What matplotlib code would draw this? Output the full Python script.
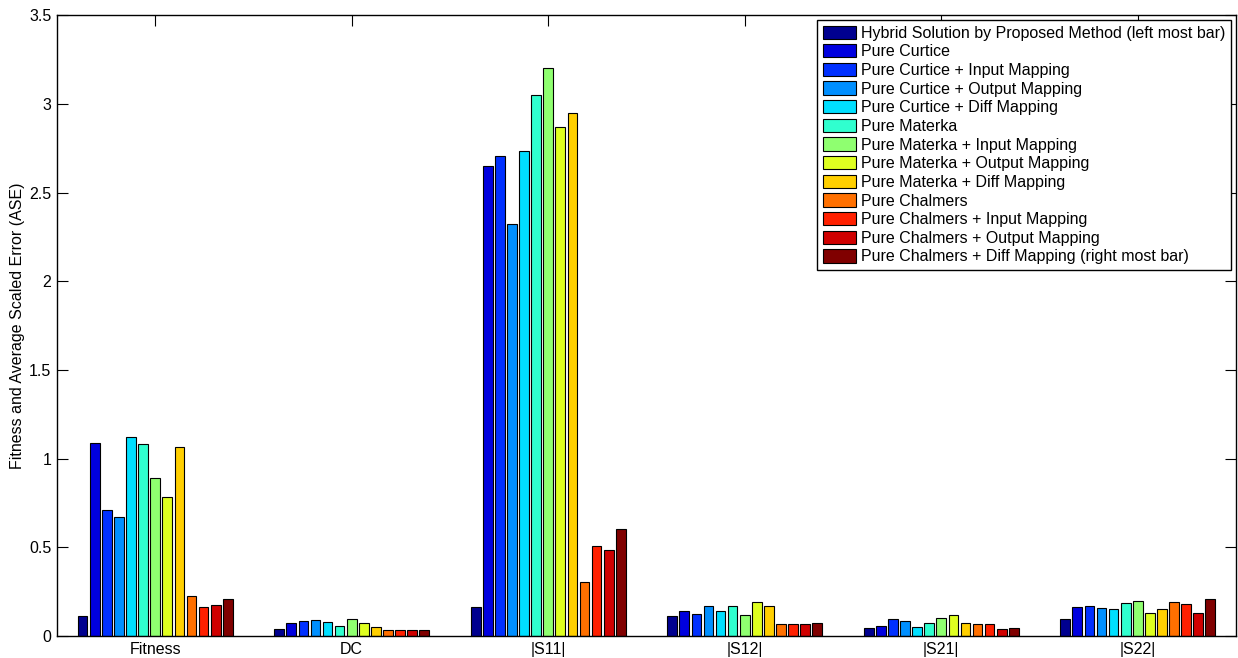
import numpy as np
import matplotlib
matplotlib.use("Agg")
import matplotlib.pyplot as plt

plt.rcParams['font.family'] = ['Liberation Sans', 'DejaVu Sans']

groups = ['Fitness', 'DC', '|S11|', '|S12|', '|S21|', '|S22|']

series = ['Hybrid Solution by Proposed Method (left most bar)',
          'Pure Curtice',
          'Pure Curtice + Input Mapping',
          'Pure Curtice + Output Mapping',
          'Pure Curtice + Diff Mapping',
          'Pure Materka',
          'Pure Materka + Input Mapping',
          'Pure Materka + Output Mapping',
          'Pure Materka + Diff Mapping',
          'Pure Chalmers',
          'Pure Chalmers + Input Mapping',
          'Pure Chalmers + Output Mapping',
          'Pure Chalmers + Diff Mapping (right most bar)']

# one row per group, one column per series
fitness = [0.113, 1.09, 0.71, 0.672, 1.123, 1.082, 0.892, 0.785, 1.067, 0.224, 0.163, 0.175, 0.209]
dc      = [0.039, 0.072, 0.085, 0.092, 0.077, 0.058, 0.098, 0.073, 0.053, 0.032, 0.032, 0.036, 0.032]
s11     = [0.163, 2.649, 2.707, 2.32, 2.732, 3.051, 3.202, 2.867, 2.946, 0.303, 0.509, 0.485, 0.605]
s12     = [0.113, 0.143, 0.124, 0.169, 0.139, 0.169, 0.118, 0.19, 0.169, 0.069, 0.069, 0.066, 0.073]
s21     = [0.045, 0.056, 0.098, 0.085, 0.049, 0.075, 0.101, 0.117, 0.073, 0.068, 0.066, 0.039, 0.043]
s22     = [0.098, 0.165, 0.171, 0.156, 0.15, 0.186, 0.197, 0.13, 0.154, 0.192, 0.18, 0.13, 0.209]

data = np.array([fitness, dc, s11, s12, s21, s22])
n_groups, n_series = data.shape


def matlab_jet(m=64):
    # same construction as matlab's jet.m
    n = int(np.ceil(m / 4))
    u = np.concatenate([np.arange(1, n + 1) / n, np.ones(n - 1), np.arange(n, 0, -1) / n])
    g = int(np.ceil(n / 2)) - (1 if m % 4 == 1 else 0) + np.arange(1, len(u) + 1)
    r = g + n
    b = g - n
    cmap = np.zeros((m, 3))
    for idx, val in zip(r, u):
        if 1 <= idx <= m:
            cmap[idx - 1, 0] = val
    for idx, val in zip(g, u):
        if 1 <= idx <= m:
            cmap[idx - 1, 1] = val
    for idx, val in zip(b, u):
        if 1 <= idx <= m:
            cmap[idx - 1, 2] = val
    return cmap


jet64 = matlab_jet(64)
# bar series pick colours from the figure colormap (scaled cdata)
colors = [jet64[min(int((i) / (n_series - 1) * 64), 63)] for i in range(n_series)]

fig = plt.figure(figsize=(12.38, 6.58), dpi=100)
ax = fig.add_axes([0.046, 0.0334, 0.9524, 0.9436])
ax.set_axisbelow(True)

x = np.arange(1, n_groups + 1)
slot = 0.8 / n_series
for i in range(n_series):
    pos = x - 0.4 + slot * (i + 0.5)
    ax.bar(pos, data[:, i], width=slot * 0.8, color=colors[i],
           edgecolor='black', linewidth=0.8, label=series[i])

ax.set_xlim(0.5, 6.5)
ax.set_ylim(0, 3.5)
ax.set_xticks(x)
ax.set_xticklabels(groups)
ax.set_yticks(np.arange(0, 3.51, 0.5))
ax.set_yticklabels(['0', '0.5', '1', '1.5', '2', '2.5', '3', '3.5'])
ax.tick_params(direction='in', length=8, width=0.8, top=True, right=True,
               labelsize=11.5, pad=4)
for s in ax.spines.values():
    s.set_linewidth(1.0)
ax.set_ylabel('Fitness and Average Scaled Error (ASE)', fontsize=11.5)
ax.yaxis.set_label_coords(-0.027, 0.5)

leg = ax.legend(loc='upper right', fontsize=11.5, frameon=True, fancybox=False,
                edgecolor='black', framealpha=1, handlelength=2.1,
                handleheight=0.9, handletextpad=0.3, labelspacing=0.22,
                borderpad=0.35, borderaxespad=0.3)
leg.get_frame().set_linewidth(1.0)

plt.savefig('out.png', dpi=100)
